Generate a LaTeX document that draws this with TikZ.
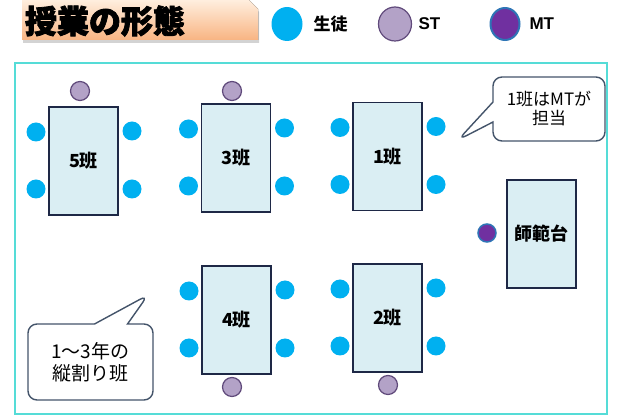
\documentclass[tikz,border=0pt]{standalone}
\usepackage{fontspec}
\setmainfont{Noto Sans CJK JP}
\newfontfamily\titrefont{Noto Sans CJK JP}[BoldFeatures={FakeBold=2.5}]
\newfontfamily\latinfont{Liberation Sans}
\usetikzlibrary{shapes.callouts,calc,shadows}

\definecolor{couleurCadre}{RGB}{85,220,215}
\definecolor{couleurTable}{RGB}{218,238,243}
\definecolor{bordTable}{RGB}{30,40,70}
\definecolor{couleurEleve}{RGB}{0,176,240}
\definecolor{fondST}{RGB}{179,162,199}
\definecolor{bordST}{RGB}{96,74,123}
\definecolor{fondMT}{RGB}{112,48,160}
\definecolor{bordMT}{RGB}{46,117,182}
\definecolor{bordBulle}{RGB}{68,84,106}

\begin{document}
\begin{tikzpicture}[x=1pt,y=-1pt,
    table/.style={draw=bordTable, line width=1.5pt, fill=couleurTable, minimum width=69pt, minimum height=108pt, inner sep=0pt, font=\fontsize{18}{20}\selectfont\bfseries},
    eleve/.style={circle, fill=couleurEleve, minimum size=19pt, inner sep=0pt},
    st/.style={circle, draw=bordST, line width=1.2pt, fill=fondST, minimum size=19pt, inner sep=0pt},
    mt/.style={circle, draw=bordMT, line width=1.5pt, fill=fondMT, minimum size=18pt, inner sep=0pt},
    bulle/.style={rectangle callout, draw=bordBulle, line width=1.4pt, fill=white, rounded corners=9pt, align=center}]

\useasboundingbox (0,0) rectangle (619,419);

%titre
\fill[top color=orange!12, bottom color={rgb,255:red,248;green,180;blue,130}, drop shadow={shadow xshift=1pt, shadow yshift=-3pt, opacity=0.35}]
    (22,-1) -- (248,-1) -- (258,9) -- (258,40) -- (22,40) -- cycle;
\node[font=\fontsize{32}{34}\selectfont\titrefont\bfseries] (titre) at (105,21) {授業の形態};

%légende
\fill[couleurEleve] (287,24) ellipse (15.5 and 17);
\node[anchor=west, font=\fontsize{17}{19}\selectfont\bfseries] (legEleve) at (310,24) {生徒};
\draw[bordST, line width=1.2pt, fill=fondST] (395,24) ellipse (16.5 and 17);
\node[anchor=west, font=\fontsize{17}{19}\selectfont\latinfont\bfseries] (legST) at (415,24) {ST};
\draw[bordMT, line width=2pt, fill=fondMT] (505,24) ellipse (14.5 and 16);
\node[anchor=west, font=\fontsize{17}{19}\selectfont\latinfont\bfseries] (legMT) at (526,24) {MT};

%la salle
\draw[couleurCadre, line width=2.5pt] (15,63) rectangle (607,414);

% tables des groupes
\node[table] (t5) at (83.5,161) {5班};
\node[table] (t3) at (236,158) {3班};
\node[table] (t1) at (387.5,156.5) {1班};
\node[table] (t4) at (236.5,320) {4班};
\node[table] (t2) at (387.5,318) {2班};
\node[table] (estrade) at (541.5,234) {師範台};

% élèves autour des tables
\foreach \t in {5,3,1,4,2}{
    \node[eleve] (e\t a) at ($(t\t.center)+(-47.5,-29)$) {};
    \node[eleve] (e\t b) at ($(t\t.center)+(-47.5,28)$) {};
    \node[eleve] (e\t c) at ($(t\t.center)+(48.5,-30)$) {};
    \node[eleve] (e\t d) at ($(t\t.center)+(48.5,28)$) {};
}

% ST et MT
\node[st] (st5) at (80,91) {};
\node[st] (st3) at (232,91) {};
\node[st] (st4) at (232,387) {};
\node[st] (st2) at (388,385) {};
\node[mt] (mt) at (487,233) {};

% bulles
\node[bulle, minimum width=112pt, minimum height=64pt, callout absolute pointer={(458,140)}, callout pointer width=20pt, font=\fontsize{17}{19}\selectfont] (bulleMT) at (549,109) {1班はMTが\\担当};
\node[bulle, minimum width=125pt, minimum height=76pt, callout absolute pointer={(148,295)}, callout pointer width=33pt, font=\fontsize{19}{22}\selectfont] (bulleGroupe) at (90.5,362) {1〜3年の\\縦割り班};

\end{tikzpicture}
\end{document}
